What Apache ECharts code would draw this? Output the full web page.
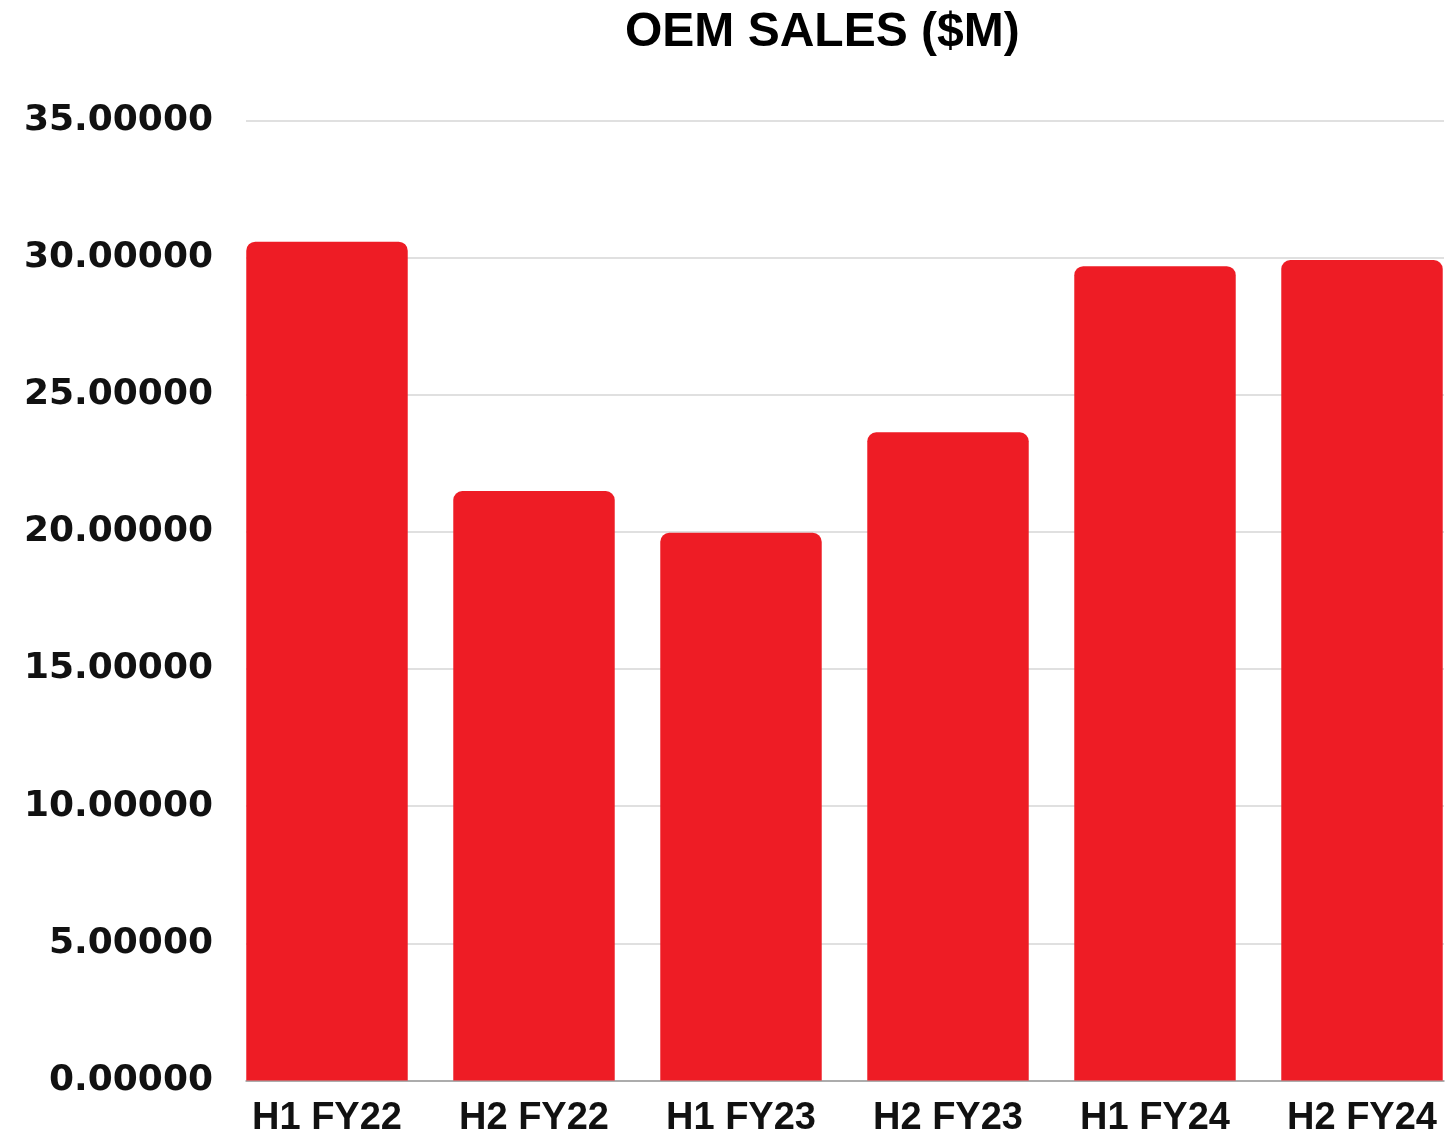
<!DOCTYPE html>
<html>
<head>
<meta charset="utf-8">
<script src="https://cdn.jsdelivr.net/npm/echarts@6/dist/echarts.min.js"></script>
<style>
html,body{margin:0;padding:0;background:#fff;}
#chart{width:1445px;height:1138px;}
</style>
</head>
<body>
<div id="chart"></div>
<script>
const titleText = 'OEM SALES ($M)';
const categories = ['H1 FY22', 'H2 FY22', 'H1 FY23', 'H2 FY23', 'H1 FY24', 'H2 FY24'];
const salesValues = [30.58, 21.49, 19.97, 23.63, 29.69, 29.91];
const yMin = 0, yMax = 35, yStep = 5;

const chart = echarts.init(document.getElementById('chart'));
const option = {
  backgroundColor: '#ffffff',
  animation: false,
  title: {
    text: titleText,
    left: 620,
    top: 4,
    textStyle: {fontFamily: 'Liberation Sans', fontWeight: 'bold', fontSize: 48, color: '#000'}
  },
  grid: [
    {left: 246, right: 1, top: 120.5, bottom: 57.5, outerBoundsMode: 'none'},
    {left: 223.5, right: -20.5, top: 120.5, bottom: 57.5, outerBoundsMode: 'none'}
  ],
  xAxis: [
    {gridIndex: 0, type: 'category', data: categories, show: true,
     axisLine: {show: true, lineStyle: {color: '#9a9a9a', width: 1.5}},
     axisTick: {show: false}, axisLabel: {show: false}, splitLine: {show: false}},
    {gridIndex: 1, type: 'category', data: categories,
     axisLine: {show: false}, axisTick: {show: false},
     axisLabel: {margin: 19, fontFamily: 'Liberation Sans', fontWeight: 'bold', fontSize: 38, color: '#111'}}
  ],
  yAxis: [
    {gridIndex: 0, type: 'value', min: yMin, max: yMax, interval: yStep,
     axisLine: {show: false}, axisTick: {show: false},
     axisLabel: {margin: 33, fontFamily: 'DejaVu Sans', fontWeight: 'bold', fontSize: 36, color: '#111',
       formatter: v => v.toFixed(5)},
     splitLine: {lineStyle: {color: '#d6d6d6', width: 1.5}}},
    {gridIndex: 1, type: 'value', min: yMin, max: yMax, interval: yStep, show: false,
     splitLine: {show: false}}
  ],
  series: [{
    type: 'bar',
    xAxisIndex: 1, yAxisIndex: 1,
    data: salesValues,
    barCategoryGap: '22%',
    itemStyle: {color: '#EE1C25', borderRadius: [9, 9, 0, 0]}
  }]
};
chart.setOption(option);
</script>
</body>
</html>
